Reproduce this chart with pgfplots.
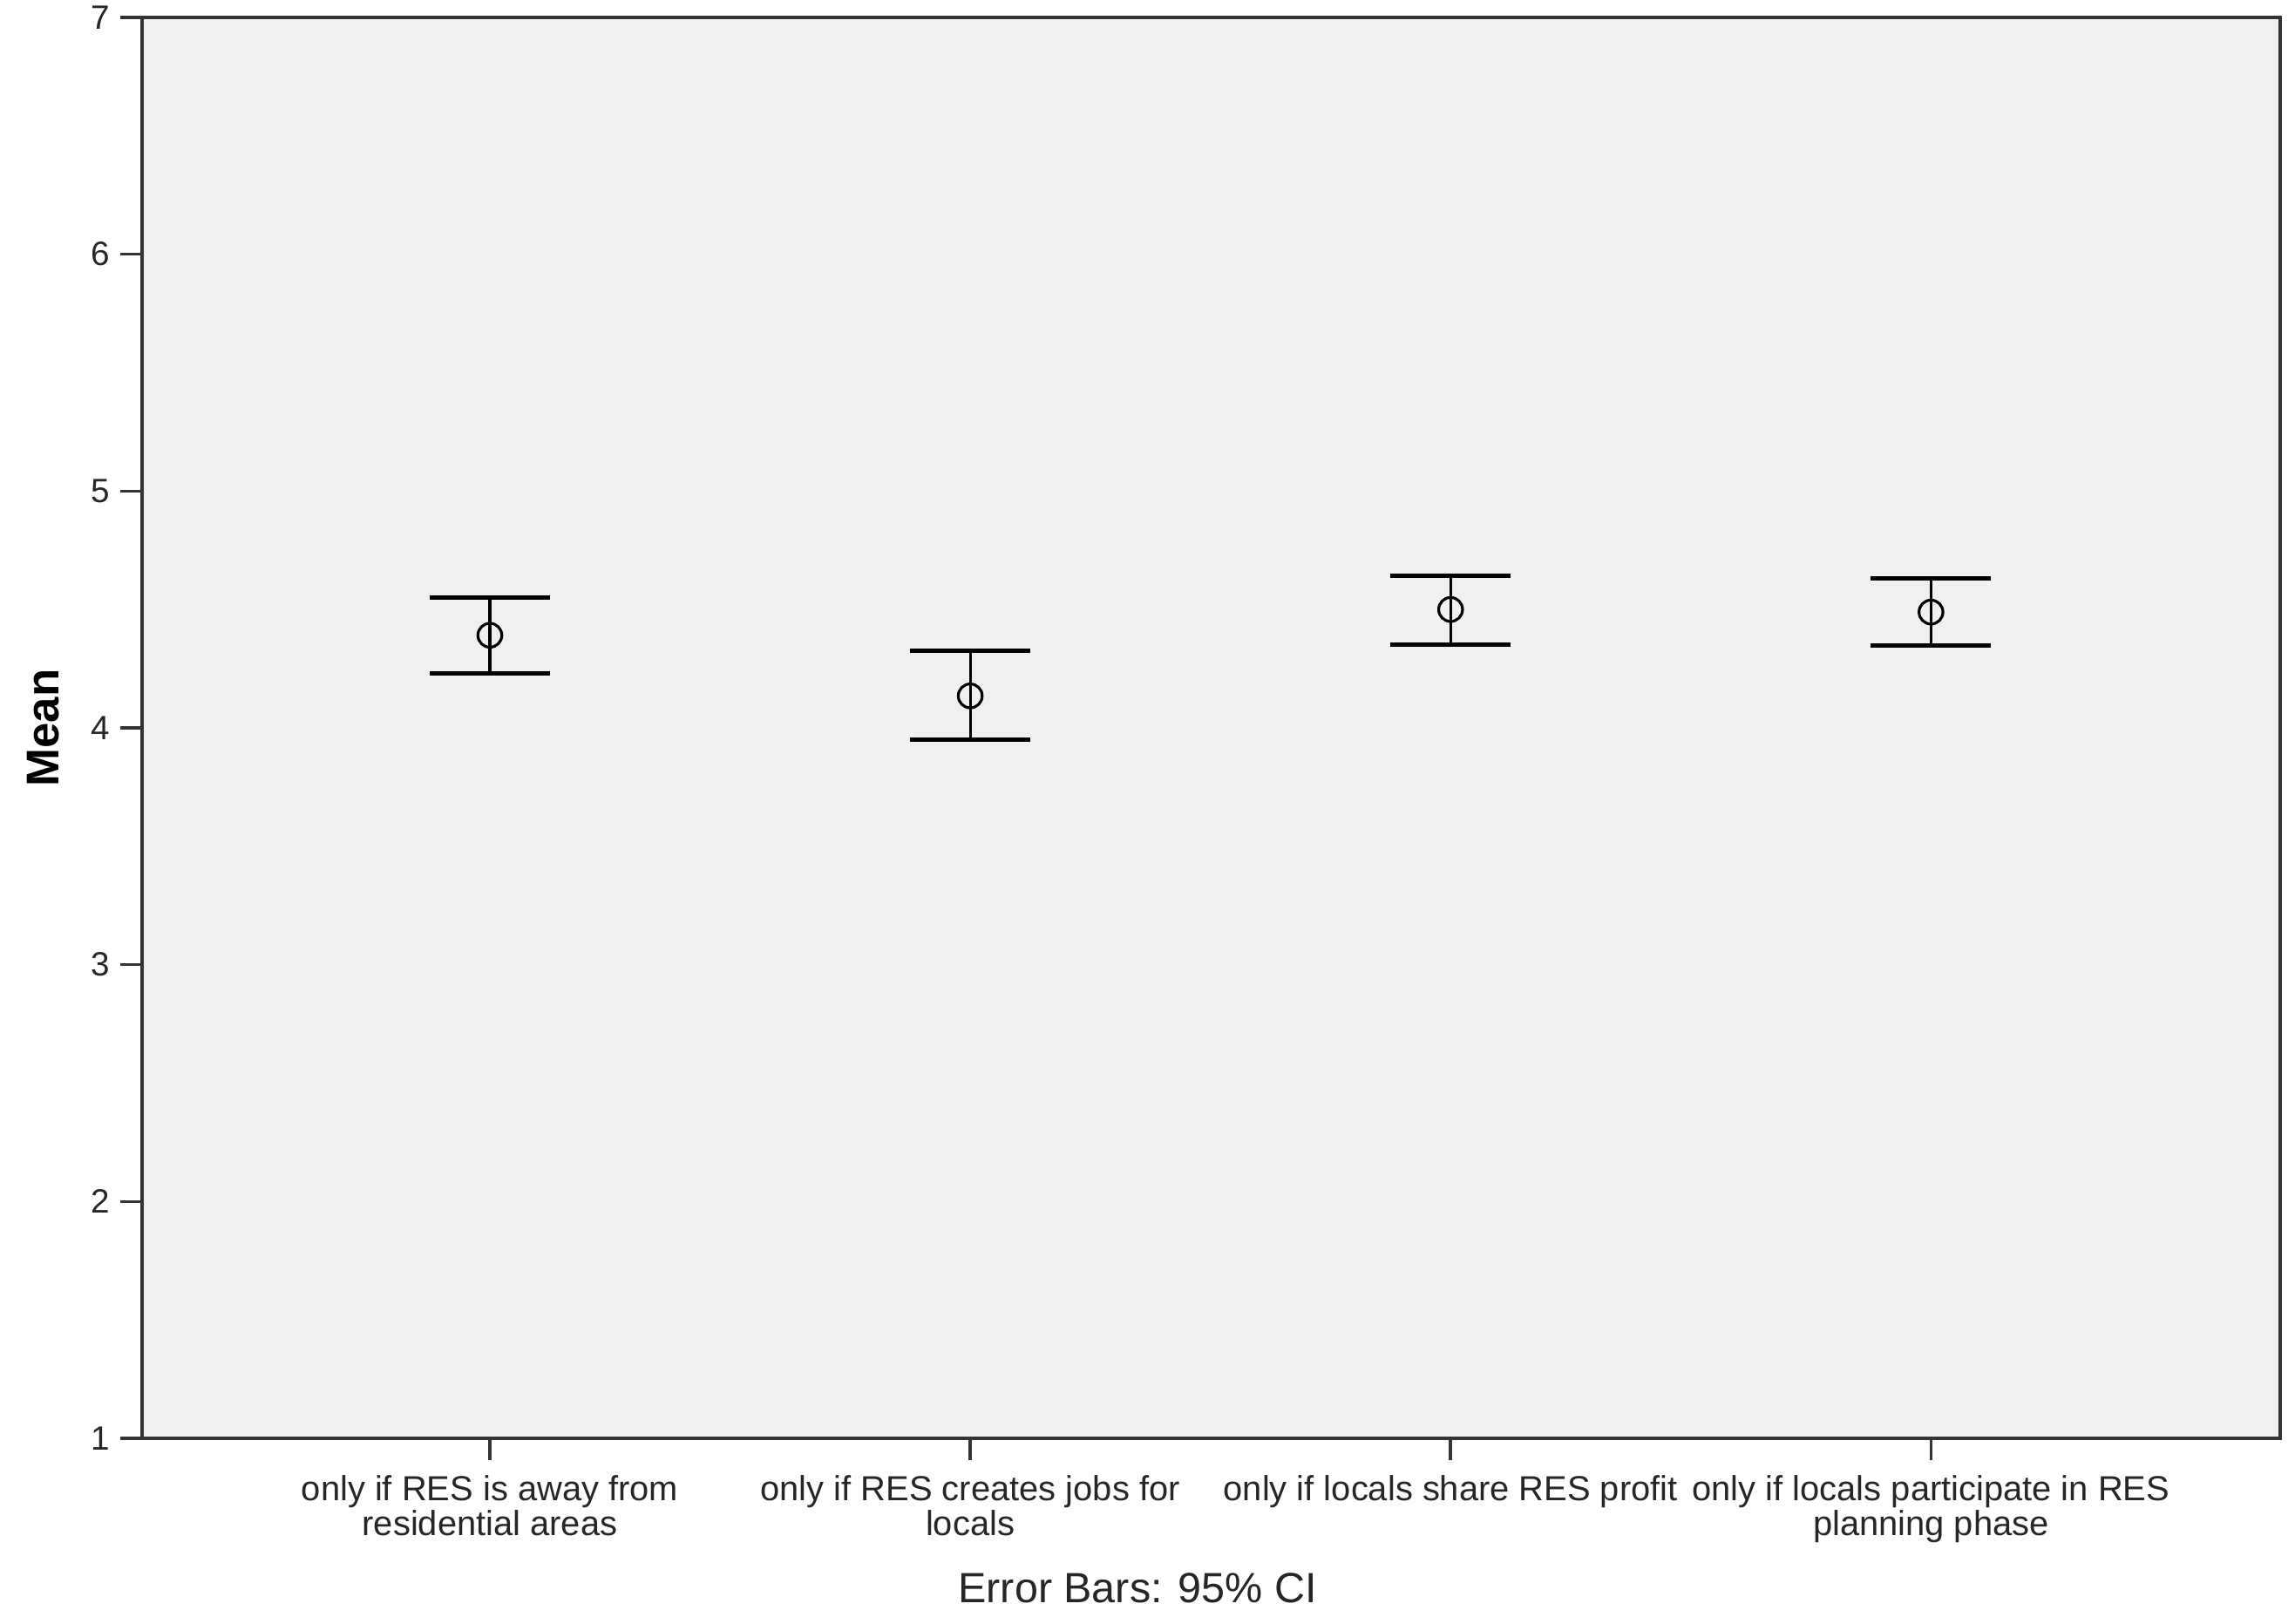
\documentclass[border=0pt]{standalone}
\usepackage{fontspec}
\setmainfont{Liberation Sans}
\usepackage{pgfplots}
\pgfplotsset{compat=1.18}
\definecolor{plotbg}{RGB}{240,240,240}
\definecolor{axdark}{RGB}{51,51,51}

\begin{document}
\begin{tikzpicture}
\begin{axis}[
  scale only axis,
  width=24.53cm, height=16.30cm,
  xmin=-0.724, xmax=3.727,
  ymin=1, ymax=7,
  ytick={1,2,3,4,5,6,7},
  xtick={0,1,2,3},
  xticklabels={{only if RES is away from\\residential areas},
               {only if RES creates jobs for\\locals},
               {only if locals share RES profit},
               {only if locals participate in RES\\planning phase}},
  xticklabel style={align=center, font=\fontsize{11.35}{11.4}\selectfont,
    text=black!85, yshift=-0.05cm},
  yticklabel style={font=\fontsize{11}{12}\selectfont, text=black!85, inner ysep=0pt},
  /pgf/number format/assume math mode=true,
  tick align=outside,
  major tick length=0.25cm,
  tick style={axdark, line width=1pt},
  axis line style={axdark, line width=1pt},
  axis background/.style={fill=plotbg},
  xtick pos=bottom, ytick pos=left,
  ylabel={\bfseries Mean},
  ylabel style={at={(axis description cs:-0.0461,0.5)}, anchor=center, rotate=0,
    font=\fontsize{15}{16}\selectfont},
  xlabel={Error Bars: 95\% CI},
  xlabel style={at={(axis description cs:0.4656,-0.1055)}, anchor=center,
    font=\fontsize{13.8}{15}\selectfont, text=black!85},
  clip=false,
]
% mean, upper CI - mean, mean - lower CI
\addplot[black, line width=0.9pt, only marks, mark=o, mark size=3.9pt,
  mark options={line width=0.9pt, fill=none},
  error bars/.cd, y dir=both, y explicit,
  error bar style={line width=0.9pt},
  error mark options={rotate=90, line width=1.4pt, mark size=0.69cm}]
  coordinates {
  (0,4.391) +- (0,0.158) -= (0,0.160)
  (1,4.135) +- (0,0.190) -= (0,0.184)
  (2,4.500) +- (0,0.143) -= (0,0.147)
  (3,4.489) +- (0,0.141) -= (0,0.141)
};
\end{axis}
\path (current axis.south west) ++(-1.63cm,-2.12cm) rectangle ++(26.33cm,18.62cm);
\end{tikzpicture}
\end{document}
